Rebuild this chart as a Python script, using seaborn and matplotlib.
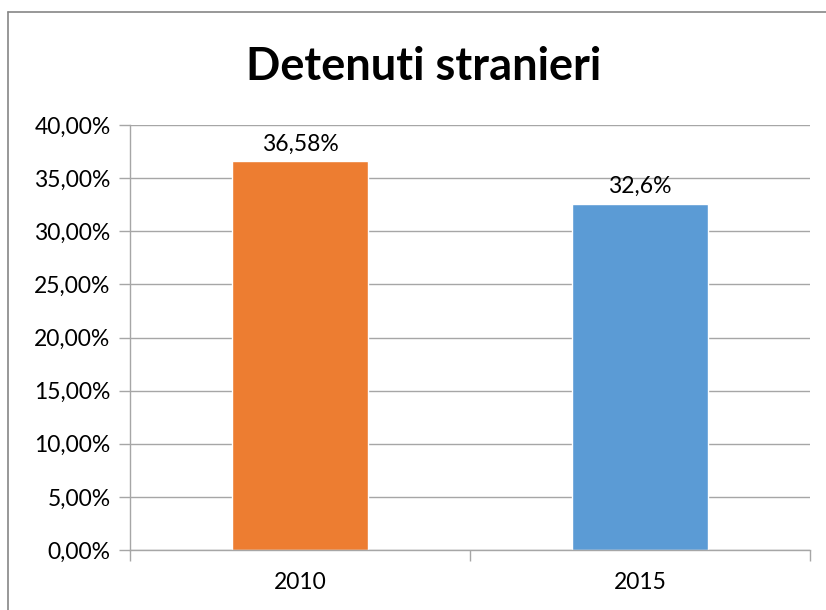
import matplotlib
matplotlib.use("Agg")
import matplotlib.pyplot as plt
from matplotlib.lines import Line2D
from matplotlib.ticker import FuncFormatter, MultipleLocator, FixedLocator
import seaborn as sns

# data
years = ["2010", "2015"]
shares = [0.3658, 0.326]
bar_labels = ["36,58%", "32,6%"]
bar_colors = ["#ED7D31", "#5B9BD5"]

sns.set_theme(style="white")
plt.rcParams["font.family"] = ["Lato", "DejaVu Sans"]

W, H = 826, 610
fig = plt.figure(figsize=(W / 100, H / 100), dpi=100)
ax = fig.add_axes([130 / W, (H - 550) / H, 680 / W, 425 / H])

sns.barplot(x=years, y=shares, hue=years, palette=bar_colors, width=0.4,
            legend=False, ax=ax, saturation=1)

grid_c = "#A6A6A6"
ax.set_ylim(0, 0.40)
ax.set_xlim(-0.5, 1.5)
ax.yaxis.set_major_locator(MultipleLocator(0.05))
ax.yaxis.set_major_formatter(FuncFormatter(lambda v, _: f"{v * 100:.2f}%".replace(".", ",")))
ax.grid(axis="y", color=grid_c, lw=1)
ax.set_axisbelow(True)

for s in ["top", "right"]:
    ax.spines[s].set_visible(False)
for s in ["left", "bottom"]:
    ax.spines[s].set_color(grid_c)
    ax.spines[s].set_linewidth(1)

fs = 16.5
ax.tick_params(axis="y", which="major", length=8, color=grid_c, width=1,
               labelsize=fs, pad=6, labelcolor="black", left=True)
ax.tick_params(axis="x", which="major", length=0, labelsize=fs, pad=16, labelcolor="black")
ax.xaxis.set_minor_locator(FixedLocator([-0.5, 0.5, 1.5]))
ax.tick_params(axis="x", which="minor", length=8, color=grid_c, width=1, bottom=True)

for i, (v, lab) in enumerate(zip(shares, bar_labels)):
    ax.annotate(lab, (i, v), xytext=(0, 5), textcoords="offset points",
                ha="center", va="bottom", fontsize=fs, color="black")

fig.text(424 / W, 1 - 67 / H, "Detenuti stranieri", ha="center", va="center",
         fontsize=32.5, fontweight="bold", color="black")

# chart area border
fig.add_artist(Line2D([8 / W, 1], [1 - 12 / H, 1 - 12 / H], color="#868686", lw=1.2))
fig.add_artist(Line2D([8 / W, 8 / W], [0, 1 - 12 / H], color="#868686", lw=1.2))

fig.savefig("out.png", dpi=100)
